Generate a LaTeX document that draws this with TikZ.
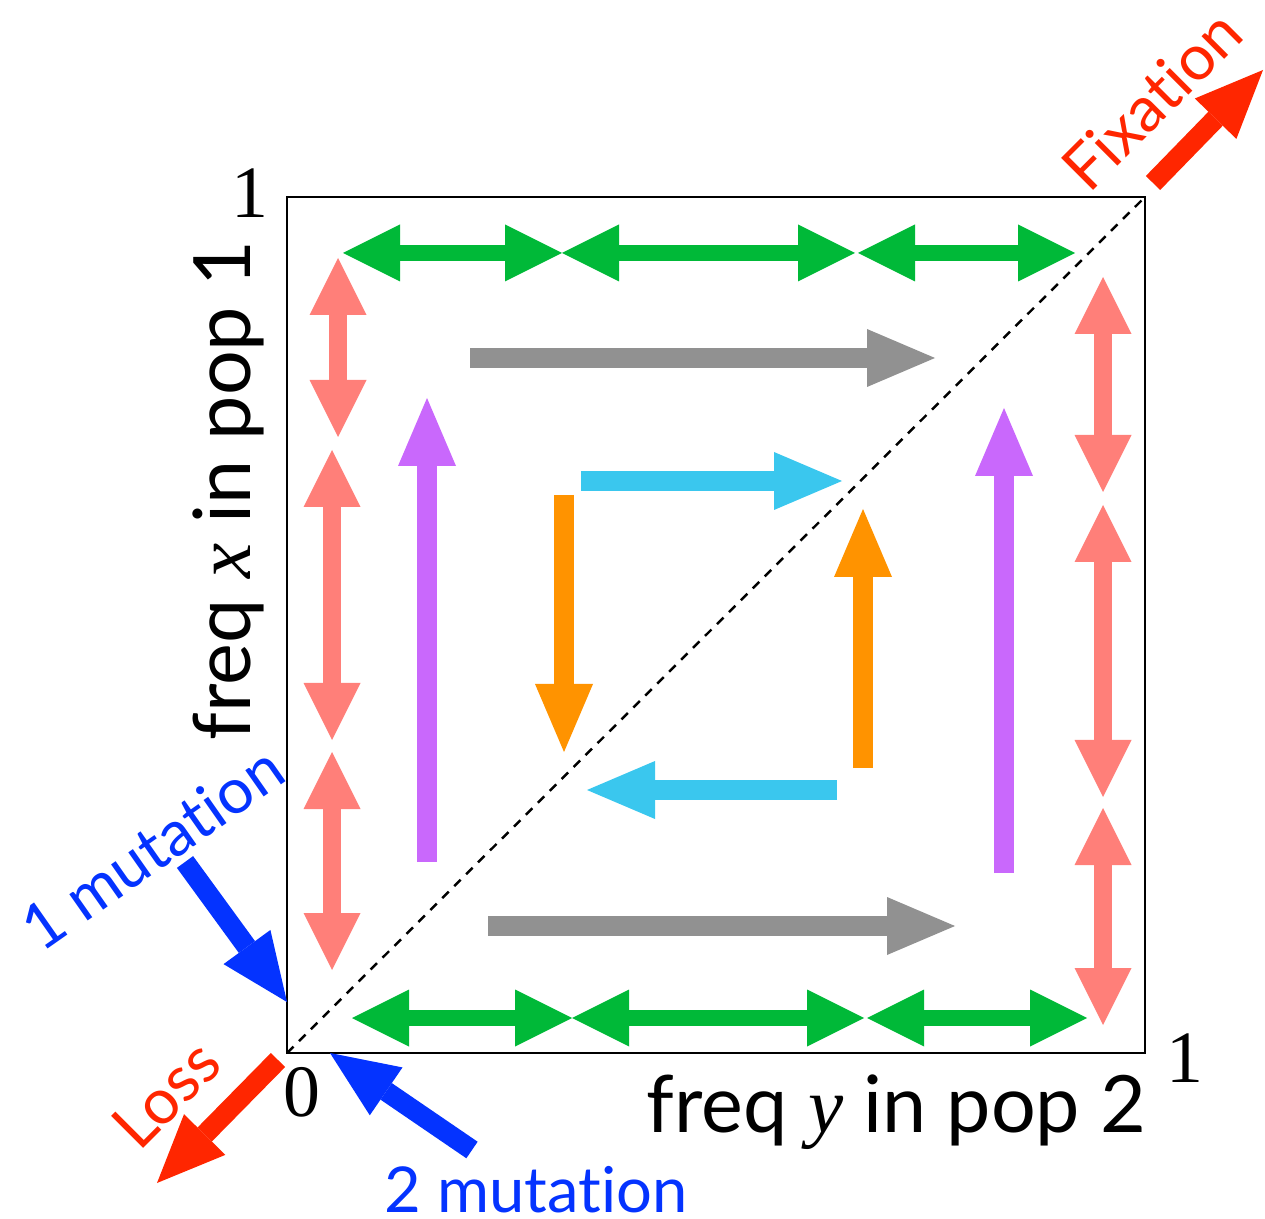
\documentclass[tikz,border=0pt]{standalone}
\usepackage{fontspec}
\setmainfont{Liberation Serif}
\newfontfamily\gillfont[Ligatures=NoCommon]{Lato}
\usetikzlibrary{arrows.meta,positioning}
\definecolor{flowgreen}{HTML}{00B938}
\definecolor{flowsalmon}{HTML}{FF7F79}
\definecolor{flowgray}{HTML}{919191}
\definecolor{flowpurple}{HTML}{C968FC}
\definecolor{flowcyan}{HTML}{3AC7EE}
\definecolor{floworange}{HTML}{FF9300}
\definecolor{mutblue}{HTML}{0433FF}
\definecolor{lossred}{HTML}{FF2600}

\tikzset{
  twoway/.style={{Triangle[length=0.57cm,width=0.57cm,line width=0pt]}-{Triangle[length=0.57cm,width=0.57cm,line width=0pt]}},
  oneway/.style={line width=5.5pt, -{Triangle[length=0.68cm,width=0.58cm,line width=0pt]}},
  sanslabel/.style={font=\gillfont\fontsize{18}{18}\selectfont},
  axislabel/.style={font=\gillfont\fontsize{22.5}{22.5}\selectfont, inner sep=0pt},
  ticklabel/.style={font=\fontsize{21}{21}\selectfont, inner sep=0pt}
}

\begin{document}
\begin{tikzpicture}
\useasboundingbox (0,0) rectangle (12.65,12.18);

% Frame and diagonal x = y
\coordinate (O) at (2.87,1.65);
\coordinate (T) at (11.45,10.21);
\draw[line width=0.8pt] (O) rectangle (T);
\draw[line width=0.7pt, dash pattern=on 2.6pt off 2.2pt] (O) -- (T);

% Drift along the edges (green: x fixed, salmon: y fixed)
\foreach \a/\b in {3.43/5.62, 5.62/8.55, 8.58/10.75}
  \draw[twoway, flowgreen, line width=4.3pt] (\a,9.65) -- (\b,9.65);
\foreach \a/\b in {3.52/5.72, 5.72/8.64, 8.67/10.87}
  \draw[twoway, flowgreen, line width=4.3pt] (\a,2.00) -- (\b,2.00);
\draw[twoway, flowsalmon, line width=5.1pt] (3.38,9.60) -- (3.38,7.81);
\foreach \a/\b in {7.68/4.78, 4.66/2.48}
  \draw[twoway, flowsalmon, line width=5.1pt] (3.32,\a) -- (3.32,\b);
\foreach \a/\b in {9.41/7.26, 7.13/4.21, 4.10/1.93}
  \draw[twoway, flowsalmon, line width=5.1pt] (11.03,\a) -- (11.03,\b);

% Flow inside the square
\draw[oneway, flowgray] (4.70,8.60) -- (9.35,8.60);
\draw[oneway, flowgray] (4.88,2.92) -- (9.55,2.92);
\draw[oneway, flowpurple] (4.27,3.56) -- (4.27,8.20);
\draw[oneway, flowpurple] (10.04,3.45) -- (10.04,8.10);
\draw[oneway, flowcyan] (5.81,7.37) -- (8.42,7.37);
\draw[oneway, flowcyan] (8.37,4.28) -- (5.87,4.28);
\draw[oneway, floworange] (5.64,7.23) -- (5.64,4.66);
\draw[oneway, floworange] (8.63,4.50) -- (8.63,7.09);

% Ticks
\node[ticklabel] (one-x) at (2.50,10.25) {1};
\node[ticklabel] (one-y) at (11.85,1.60) {1};
\node[ticklabel] (zero) at (3.02,1.26) {0};

% Axis labels
\node[axislabel, rotate=90, anchor=base east] (xlabel) at (2.50,9.78)
  {freq {\rmfamily\itshape x} in pop 1};
\node[axislabel, anchor=base east] (ylabel) at (11.47,0.86)
  {freq {\rmfamily\itshape y} in pop 2};

% Boundary events
\node[sanslabel, mutblue, rotate=35] (mut1) at (1.52,3.70) {1 mutation};
\node[sanslabel, mutblue, anchor=base, inner sep=0pt] (mut2) at (5.36,0.06) {2 mutation};
\node[sanslabel, lossred, rotate=45] (loss) at (1.66,1.24) {Loss};
\node[sanslabel, lossred, rotate=45] (fix) at (11.52,11.18) {Fixation};
\draw[oneway, mutblue, line width=5.7pt] (1.85,3.56) -- (2.87,2.16);
\draw[oneway, mutblue, line width=5.7pt] (4.72,0.68) -- (3.30,1.65);
\draw[oneway, lossred, line width=5.7pt] (2.78,1.58) -- (1.57,0.35);
\draw[oneway, lossred, line width=5.7pt] (11.53,10.35) -- (12.63,11.48);

\end{tikzpicture}
\end{document}
